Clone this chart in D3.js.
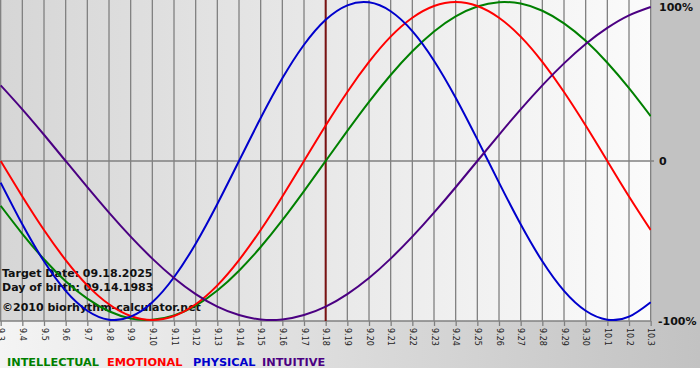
<!DOCTYPE html>
<html><head><meta charset="utf-8">
<script src="https://cdn.jsdelivr.net/npm/d3@7"></script>
<style>html,body{margin:0;padding:0;background:#fff;}svg{display:block;}</style>
</head><body>
<svg id="chart" width="700" height="380"></svg>
<script>
const dayLabels = ["9.3","9.4","9.5","9.6","9.7","9.8","9.9","9.10","9.11","9.12","9.13","9.14","9.15","9.16","9.17","9.18","9.19","9.20","9.21","9.22","9.23","9.24","9.25","9.26","9.27","9.28","9.29","9.30","10.1","10.2","10.3"];
const intellectual = [-0.282,-0.458,-0.618,-0.756,-0.866,-0.945,-0.990,-0.999,-0.972,-0.910,-0.815,-0.690,-0.541,-0.372,-0.189,0,0.189,0.372,0.541,0.690,0.815,0.910,0.972,0.999,0.990,0.945,0.866,0.756,0.618,0.458,0.282];
const emotional = [0,-0.223,-0.434,-0.623,-0.782,-0.901,-0.975,-1,-0.975,-0.901,-0.782,-0.623,-0.434,-0.223,0,0.223,0.434,0.623,0.782,0.901,0.975,1,0.975,0.901,0.782,0.623,0.434,0.223,0,-0.223,-0.434];
const physical = [-0.136,-0.398,-0.631,-0.817,-0.942,-0.998,-0.979,-0.888,-0.731,-0.520,-0.270,0,0.270,0.520,0.731,0.888,0.979,0.998,0.942,0.817,0.631,0.398,0.136,-0.136,-0.398,-0.631,-0.817,-0.942,-0.998,-0.979,-0.888];
const intuitive = [0.476,0.325,0.165,0,-0.165,-0.325,-0.476,-0.614,-0.736,-0.837,-0.916,-0.969,-0.997,-0.997,-0.969,-0.916,-0.837,-0.736,-0.614,-0.476,-0.325,-0.165,0,0.165,0.325,0.476,0.614,0.736,0.837,0.916,0.969];
const seriesNames = ["INTELLECTUAL","EMOTIONAL","PHYSICAL","INTUITIVE"];
const yTickLabels = ["100%","0","-100%"];
const yTickValues = [1,0,-1];
const targetIndex = 15;
const infoLines = ["Target Date: 09.18.2025","Day of birth: 09.14.1983"];
const copyright = "©2010 biorhythm-calculator.net";

const colors = ["#008000","#ff0000","#0000cc","#4b0082"];
const seriesData = [intellectual, emotional, physical, intuitive];

const svg = d3.select("#chart");
const W = 700, H = 380;
const plotL = 0, plotR = 651, plotT = 0, plotB = 321;

const defs = svg.append("defs");
const g1 = defs.append("linearGradient").attr("id","plotBg").attr("x1","0").attr("x2","1").attr("y1","0").attr("y2","0");
g1.append("stop").attr("offset","0").attr("stop-color","#d6d6d6");
g1.append("stop").attr("offset","1").attr("stop-color","#fbfbfb");
const g2 = defs.append("linearGradient").attr("id","botBg").attr("x1","0").attr("x2","1").attr("y1","0").attr("y2","0");
g2.append("stop").attr("offset","0").attr("stop-color","#f4f4f4");
g2.append("stop").attr("offset","1").attr("stop-color","#c2c2c2");
defs.append("clipPath").attr("id","clip").append("rect")
  .attr("x",plotL).attr("y",plotT).attr("width",plotR-plotL).attr("height",plotB-plotT);

svg.append("rect").attr("width",W).attr("height",H).attr("fill","#c2c2c2");
svg.append("rect").attr("x",plotL).attr("y",plotT).attr("width",plotR-plotL).attr("height",plotB-plotT).attr("fill","url(#plotBg)");
svg.append("rect").attr("x",0).attr("y",plotB).attr("width",W).attr("height",368-plotB).attr("fill","url(#botBg)");
svg.append("rect").attr("x",0).attr("y",368).attr("width",W).attr("height",12).attr("fill","#ffffff");

const x = d3.scaleLinear().domain([0, dayLabels.length-1]).range([0.67, 650.67]);
const y = d3.scaleLinear().domain([-1,1]).range([320,2]);

// vertical grid
svg.append("g").selectAll("line").data(d3.range(dayLabels.length)).join("line")
  .attr("x1",d=>x(d)).attr("x2",d=>x(d)).attr("y1",plotT).attr("y2",plotB)
  .attr("stroke","#808080").attr("stroke-width",1.3);
// zero line
svg.append("line").attr("x1",plotL).attr("x2",654).attr("y1",y(0)).attr("y2",y(0))
  .attr("stroke","#808080").attr("stroke-width",1.3);

// bottom axis
const axis = d3.axisBottom(x).tickValues(d3.range(dayLabels.length))
  .tickFormat(i=>dayLabels[i]).tickSize(5).tickSizeOuter(0);
const ax = svg.append("g").attr("transform",`translate(0,${plotB})`).call(axis);
ax.select(".domain").attr("stroke","#808080").attr("stroke-width",1.3).attr("d",`M0,0H${plotR}`);
ax.selectAll(".tick line").attr("stroke","#808080").attr("stroke-width",1.3);
ax.selectAll(".tick text")
  .attr("transform","rotate(90)")
  .attr("x",7).attr("y",0).attr("dy","0.35em")
  .style("text-anchor","start")
  .attr("font-family","DejaVu Sans, Verdana, sans-serif")
  .attr("font-size",8).attr("fill","#222");

// right labels
const rightBaselines = [11,165,325];
svg.append("g").selectAll("text").data(yTickValues).join("text")
  .attr("x",(d,i)=> i===2 ? 658 : 659)
  .attr("y",(d,i)=>rightBaselines[i])
  .attr("font-family","DejaVu Sans, Verdana, sans-serif")
  .attr("font-weight","bold").attr("font-size",11).attr("fill","#111")
  .text((d,i)=>yTickLabels[i]);

// info text
const info = svg.append("g").attr("font-family","DejaVu Sans, Verdana, sans-serif").attr("font-weight","bold").attr("fill","#111");
info.append("text").attr("x",2).attr("y",277).attr("font-size",11).text(infoLines[0]);
info.append("text").attr("x",2).attr("y",291).attr("font-size",11).text(infoLines[1]);
info.append("text").attr("x",2).attr("y",311).attr("font-size",11).text(copyright);

// target line
svg.append("line").attr("x1",x(targetIndex)).attr("x2",x(targetIndex)).attr("y1",plotT).attr("y2",plotB)
  .attr("stroke","#7a1212").attr("stroke-width",2);

// curves
const line = d3.line().x((d,i)=>x(i)).y(d=>y(d)).curve(d3.curveNatural);
svg.append("g").attr("clip-path","url(#clip)").selectAll("path").data(seriesData).join("path")
  .attr("d",d=>line(d)).attr("fill","none")
  .attr("stroke",(d,i)=>colors[i]).attr("stroke-width",2);

// legend
const legendX = [7,107,193,262];
svg.append("g").selectAll("text").data(seriesNames).join("text")
  .attr("x",(d,i)=>legendX[i]).attr("y",366)
  .attr("font-family","DejaVu Sans, Verdana, sans-serif")
  .attr("font-weight","bold").attr("font-size",11.3)
  .attr("fill",(d,i)=>colors[i]).text(d=>d);
</script>
</body></html>
